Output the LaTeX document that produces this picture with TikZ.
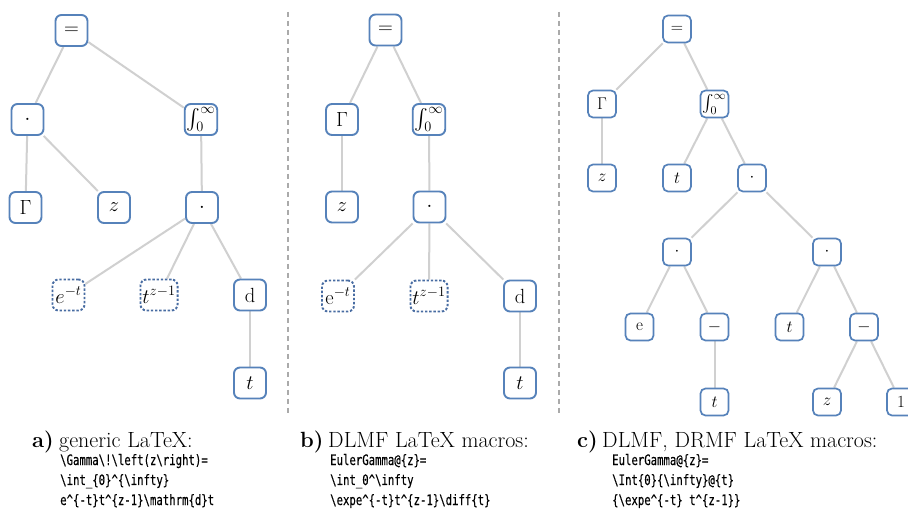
\RequirePackage{fix-cm}
\documentclass[tikz,border=0pt]{standalone}
\usepackage{fontspec}
\DeclareFontFamily{OMX}{cmex}{}
\DeclareFontShape{OMX}{cmex}{m}{n}{<->cmex10}{}
\newfontfamily\codefont[FakeStretch=0.74,FakeBold=0.3]{DejaVu Sans Mono}
\usetikzlibrary{backgrounds}
\definecolor{nodeblue}{RGB}{86,130,186}
\definecolor{dotblue}{RGB}{72,108,162}
\definecolor{edgegray}{RGB}{208,208,208}
\definecolor{divgray}{RGB}{170,170,170}
\newcommand{\bsl}{\textbackslash}
\tikzset{
  tn/.style={draw=nodeblue, line width=1.9pt, rounded corners=6pt, fill=white,
    minimum width=32pt, minimum height=31pt, inner sep=2pt,
    font=\fontsize{20.5}{22}\selectfont},
  tnd/.style={tn, draw=dotblue, dash pattern=on 2.4pt off 1.8pt},
  tc/.style={tn, minimum width=28pt, minimum height=27pt, rounded corners=5pt,
    line width=1.7pt, inner sep=1.5pt, font=\fontsize{17}{19}\selectfont},
  conn/.style={draw=edgegray, line width=2pt},
  divider/.style={draw=divgray, line width=1.3pt, dash pattern=on 5pt off 4pt},
  lbl/.style={anchor=base west, inner sep=0pt, font=\fontsize{22}{24}\selectfont\bfseries},
  ttl/.style={anchor=base west, inner sep=0pt, font=\fontsize{22}{24}\selectfont},
  code/.style={anchor=base west, inner sep=0pt, font=\codefont\fontsize{14.4}{16}\selectfont},
}
\begin{document}
\begin{tikzpicture}[x=1pt, y=-1pt]
\useasboundingbox (0,0) rectangle (908,518);

% ---------- panel a ----------
\node[tn] (Aeq)  at (71.5,30.5) {$=$};
\node[tn] (Adot1) at (27.5,119.5) {$\cdot$};
\node[tn] (Aint) at (201,119.5) {$\int_0^\infty$};
\node[tn] (AGam) at (25.5,207.5) {$\Gamma$};
\node[tn] (Az)   at (114,207.5) {$z$};
\node[tn] (Adot2) at (202,207.5) {$\cdot$};
\node[tnd] (Ae)  at (68.5,295) {$e^{-t}$};
\node[tnd] (Atz) at (159,295) {$t^{z-1}$};
\node[tn] (Ad)   at (250,295) {$\mathrm{d}$};
\node[tn] (At)   at (250,383) {$t$};

% ---------- panel b ----------
\node[tn] (Beq)  at (385.5,30) {$=$};
\node[tn] (BGam) at (342,119.5) {$\Gamma$};
\node[tn] (Bint) at (429,119.5) {$\int_0^\infty$};
\node[tn] (Bz)   at (342,207) {$z$};
\node[tn] (Bdot) at (429.5,207) {$\cdot$};
\node[tnd] (Be)  at (338,296) {$\mathrm{e}^{-t}$};
\node[tnd] (Btz) at (429,296) {$t^{z-1}$};
\node[tn] (Bd)   at (520,296) {$\mathrm{d}$};
\node[tn] (Bt)   at (520,383) {$t$};

% ---------- panel c ----------
\node[tc] (Ceq)   at (677,29) {$=$};
\node[tc] (CGam)  at (602,104) {$\Gamma$};
\node[tc] (Cint)  at (714.5,104) {$\int_0^\infty$};
\node[tc] (Cz)    at (602,178) {$z$};
\node[tc] (Ct)    at (677,178) {$t$};
\node[tc] (Cdot)  at (752,178) {$\cdot$};
\node[tc] (CdotL) at (677,252) {$\cdot$};
\node[tc] (CdotR) at (827,252) {$\cdot$};
\node[tc] (Ce)    at (639.5,327) {$\mathrm{e}$};
\node[tc] (CminL) at (714.5,327) {$-$};
\node[tc] (Ct2)   at (714.5,402) {$t$};
\node[tc] (Ct3)   at (789.5,327) {$t$};
\node[tc] (CminR) at (864,327) {$-$};
\node[tc] (Cz2)   at (827,402) {$z$};
\node[tc] (Cone)  at (901,402) {$1$};

% ---------- dividers ----------
\coordinate (d1t) at (288,12);
\coordinate (d1b) at (288,416);
\coordinate (d2t) at (559,12);
\coordinate (d2b) at (559,416);
\draw[divider] (d1t) -- (d1b);
\draw[divider] (d2t) -- (d2b);

% ---------- connectors ----------
\begin{scope}[on background layer]
  \fill[white] (0,0) rectangle (908,518);
  \draw[conn] (Aeq) -- (Adot1);
  \draw[conn] (Aeq) -- (Aint);
  \draw[conn] (Adot1) -- (AGam);
  \draw[conn] (Adot1) -- (Az);
  \draw[conn] (Aint) -- (Adot2);
  \draw[conn] (Adot2) -- (Ae);
  \draw[conn] (Adot2) -- (Atz);
  \draw[conn] (Adot2) -- (Ad);
  \draw[conn] (Ad) -- (At);

  \draw[conn] (Beq) -- (BGam);
  \draw[conn] (Beq) -- (Bint);
  \draw[conn] (BGam) -- (Bz);
  \draw[conn] (Bint) -- (Bdot);
  \draw[conn] (Bdot) -- (Be);
  \draw[conn] (Bdot) -- (Btz);
  \draw[conn] (Bdot) -- (Bd);
  \draw[conn] (Bd) -- (Bt);

  \draw[conn] (Ceq) -- (CGam);
  \draw[conn] (Ceq) -- (Cint);
  \draw[conn] (CGam) -- (Cz);
  \draw[conn] (Cint) -- (Ct);
  \draw[conn] (Cint) -- (Cdot);
  \draw[conn] (Cdot) -- (CdotL);
  \draw[conn] (Cdot) -- (CdotR);
  \draw[conn] (CdotL) -- (Ce);
  \draw[conn] (CdotL) -- (CminL);
  \draw[conn] (CminL) -- (Ct2);
  \draw[conn] (CdotR) -- (Ct3);
  \draw[conn] (CdotR) -- (CminR);
  \draw[conn] (CminR) -- (Cz2);
  \draw[conn] (CminR) -- (Cone);
\end{scope}

% ---------- captions ----------
\node[lbl] (la) at (32,448) {a)};
\node[ttl] (ta) at (59,448) {generic LaTeX:};
\node[code] (ca1) at (60,465) {\bsl{}Gamma\bsl{}!\bsl{}left(z\bsl{}right)=};
\node[code] (ca2) at (60,485) {\bsl{}int\_\{0\}\textasciicircum\{\bsl{}infty\}};
\node[code] (ca3) at (60,505) {e\textasciicircum\{-t\}t\textasciicircum\{z-1\}\bsl{}mathrm\{d\}t};

\node[lbl] (lb) at (300,448) {b)};
\node[ttl] (tb) at (328,448) {DLMF LaTeX macros:};
\node[code] (cb1) at (330,465) {EulerGamma@\{z\}=};
\node[code] (cb2) at (330,485) {\bsl{}int\_0\textasciicircum\bsl{}infty};
\node[code] (cb3) at (330,505) {\bsl{}expe\textasciicircum\{-t\}t\textasciicircum\{z-1\}\bsl{}diff\{t\}};

\node[lbl] (lc) at (577,448) {c)};
\node[ttl] (tc) at (602,448) {DLMF, DRMF LaTeX macros:};
\node[code] (cc1) at (612,465) {EulerGamma@\{z\}=};
\node[code] (cc2) at (612,485) {\bsl{}Int\{0\}\{\bsl{}infty\}@\{t\}};
\node[code] (cc3) at (612,505) {\{\bsl{}expe\textasciicircum\{-t\} t\textasciicircum\{z-1\}\}};
\end{tikzpicture}
\end{document}
